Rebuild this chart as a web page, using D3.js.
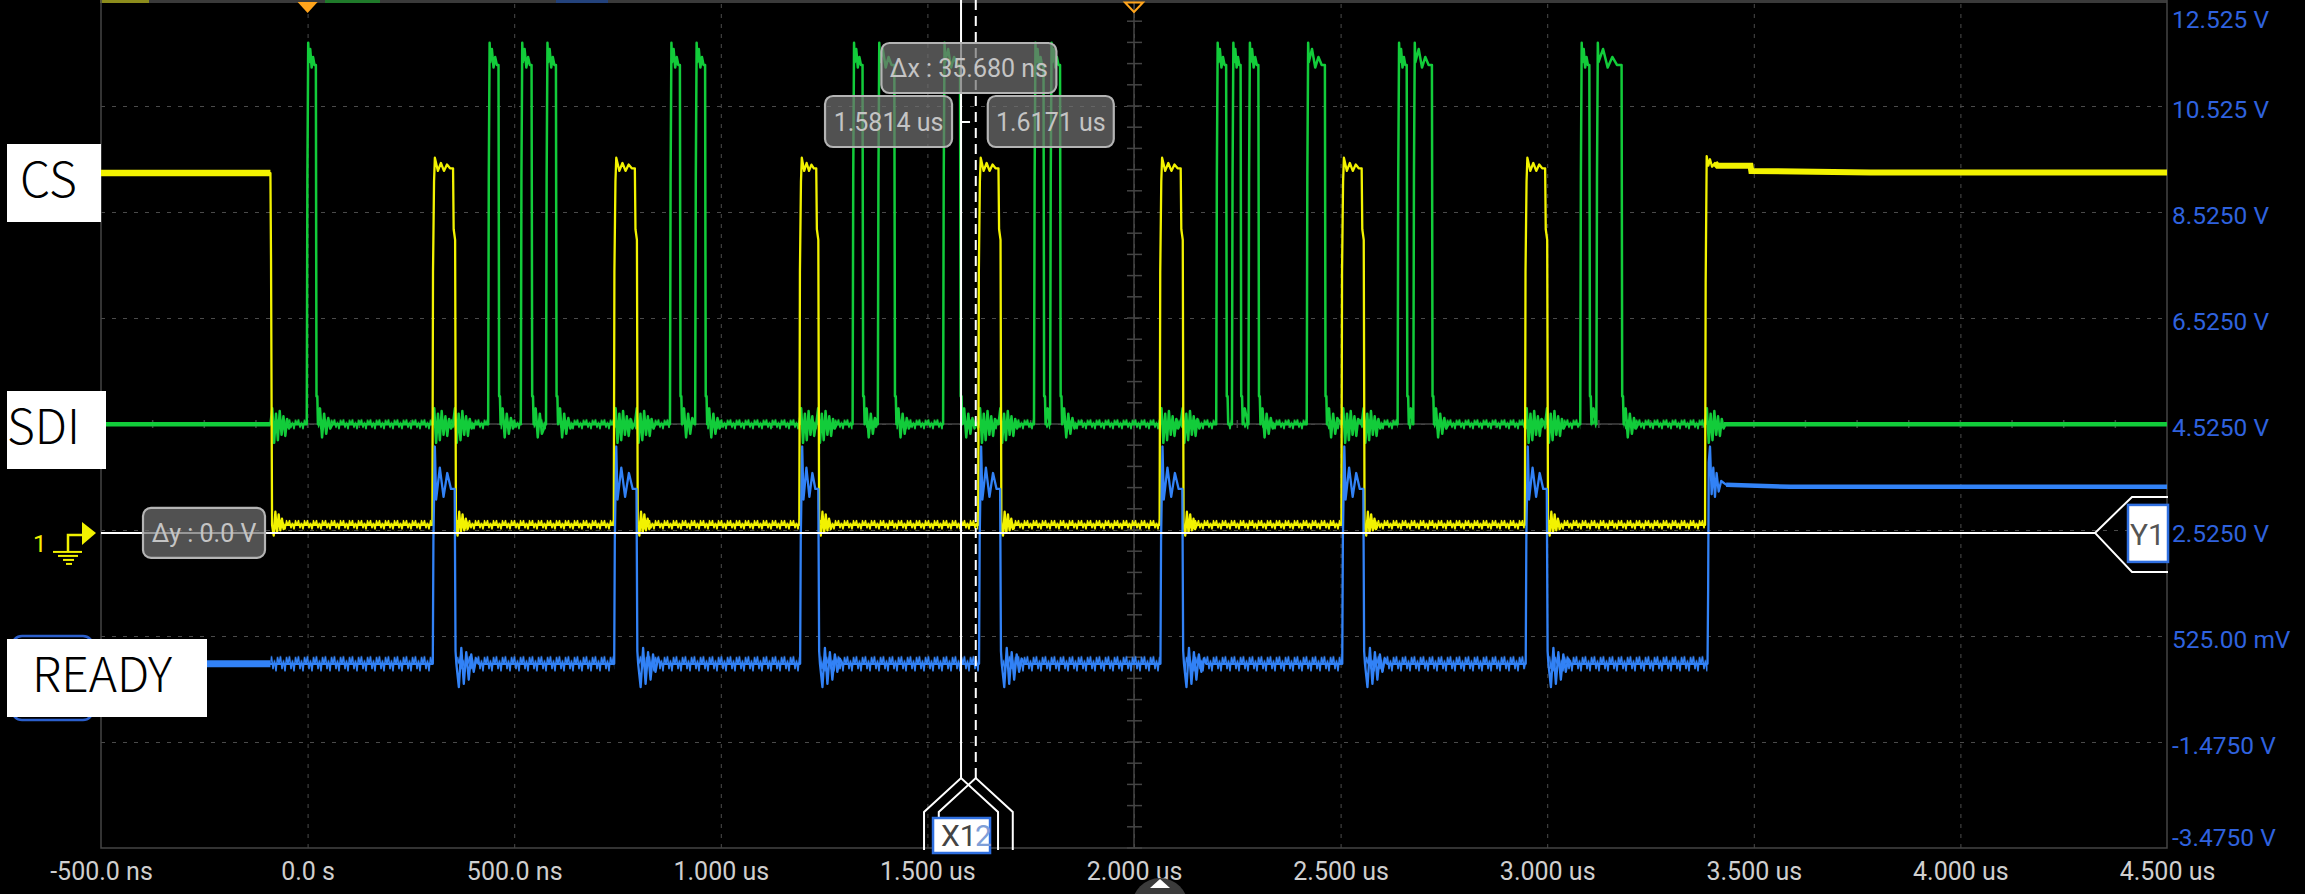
<!DOCTYPE html>
<html>
<head>
<meta charset="utf-8">
<script src="https://cdn.jsdelivr.net/npm/d3@7"></script>
<style>
  html, body { margin: 0; padding: 0; background: #000; overflow: hidden; }
  svg { display: block; }
</style>
</head>
<body>
<svg id="scope" width="2305" height="894"></svg>
<script>
// time in ns, voltage in the volts of the displayed scale
const timeTicks = [-500, 0, 500, 1000, 1500, 2000, 2500, 3000, 3500, 4000, 4500];
const timeTickLabels = ["-500.0 ns", "0.0 s", "500.0 ns", "1.000 us", "1.500 us", "2.000 us",
  "2.500 us", "3.000 us", "3.500 us", "4.000 us", "4.500 us"];
const voltTicks = [12.525, 10.525, 8.525, 6.525, 4.525, 2.525, 0.525, -1.475, -3.475];
const voltTickLabels = ["12.525 V", "10.525 V", "8.5250 V", "6.5250 V", "4.5250 V", "2.5250 V",
  "525.00 mV", "-1.4750 V", "-3.4750 V"];

// CS (yellow)
const csHigh = 9.26, csLow = 2.62;
const csFall = -90;
const csPulseRise = [302, 741, 1190, 1623, 2062, 2502, 2946];
const csPulseFall = [352, 792, 1231, 1672, 2113, 2551, 2995];
const csPulseTop = [9.55, 9.3, 9.45, 9.3, 9.42, 9.35];
const csRing = [-0.2, 0.25, -0.15, 0.2, -0.1, 0.12, -0.08];
const csFinalRise = 3382;
const csSettle = [[4, 9.58], [8, 9.4], [12, 9.52], [17, 9.38], [24, 9.45], [30, 9.4], [110, 9.4], [112, 9.3], [400, 9.27]];

// SDI (green)
const sdiLow = 4.52, sdiPeak = 11.72;
const sdiRise = [-2, 437, 516, 577, 877, 938, 1319, 1380, 1538, 1758, 1797, 2199, 2237, 2277, 2418, 2638, 2676, 3080, 3119];
const sdiFall = [20, 462, 542, 601, 901, 962, 1343, 1420, 1579, 1781, 1821, 2223, 2258, 2301, 2462, 2660, 2721, 3102, 3180];
const sdiTop = [11.35, 11.6, 11.25, 11.45, 11.3];
const sdiRing = [0.3, -0.25, 0.2, -0.18, 0.12, -0.08];
const sdiCrosstalk = [0.3, -0.35, 0.2, -0.3, 0.25, -0.2, 0.15, -0.22, 0.1, -0.08];

// READY (blue)
const readyLow = 0.0;
const readyRise = [303, 742, 1192, 1625, 2064, 2504, 2948];
const readyFall = [356, 796, 1236, 1676, 2117, 2555, 2999];
const readyPulseTop = [4.1, 3.1, 3.7, 3.15, 3.6, 3.3];
const readyRing = [-0.44, 0.3, -0.38, 0.22, -0.3, 0.18, -0.15, 0.1];
const readyFinalRise = 3388;
const readySettle = [[3, 3.8], [6, 4.1], [10, 3.2], [14, 3.7], [18, 3.15], [22, 3.6], [27, 3.25], [33, 3.45], [45, 3.38], [200, 3.34]];

// half width of the noise band on the busy low levels
const csNoise = 0.1, sdiNoise = 0.11, readyNoise = 0.17;

// cursors
const x1Cursor = 1581.4, x2Cursor = 1617.08, y1Cursor = 2.47;

const W = 2305, H = 894;
const plot = { left: 101, right: 2167, top: 0, bottom: 848 };
const yellow = "#f2f200", green = "#12cc3a", blue = "#3282f6";
const font = "Roboto, 'Noto Sans', sans-serif";

const x = d3.scaleLinear().domain([-500, 4500]).range([plot.left, plot.right]);
const y = d3.scaleLinear().domain([-3.475, 12.525]).range([plot.bottom, plot.top]);

const svg = d3.select("#scope");
svg.append("rect").attr("width", W).attr("height", H).attr("fill", "#000");
const defs = svg.append("defs");
defs.append("clipPath").attr("id", "plotClip").append("rect")
  .attr("x", plot.left).attr("y", plot.top)
  .attr("width", plot.right - plot.left).attr("height", plot.bottom - plot.top);

// top status strip
svg.append("line").attr("x1", plot.left).attr("x2", plot.right).attr("y1", 1.5).attr("y2", 1.5)
  .attr("stroke", "#3a3a3a").attr("stroke-width", 3);
[[100, 149, "#8c8c1c"], [325, 380, "#1f7a2a"], [556, 608, "#23427c"]].forEach(([a, b, c]) =>
  svg.append("line").attr("x1", a).attr("x2", b).attr("y1", 1.5).attr("y2", 1.5)
    .attr("stroke", c).attr("stroke-width", 3));

// grid
const grid = svg.append("g");
grid.append("g").attr("transform", `translate(0,${plot.bottom})`)
  .call(d3.axisBottom(x).tickValues(timeTicks.slice(1, -1)).tickSize(-(plot.bottom - plot.top)).tickFormat(""))
  .call(g => g.select(".domain").remove())
  .call(g => g.selectAll("line").attr("stroke", "#4a4a4a").attr("stroke-dasharray", "4,6"));
grid.append("g").attr("transform", `translate(${plot.left},0)`)
  .call(d3.axisLeft(y).tickValues(voltTicks.slice(1, -1)).tickSize(-(plot.right - plot.left)).tickFormat(""))
  .call(g => g.select(".domain").remove())
  .call(g => g.selectAll("line").attr("stroke", "#4a4a4a").attr("stroke-dasharray", "4,7"));

// centre cross with minor ticks
const cx = x(2000), cy = y(4.525);
grid.append("line").attr("x1", cx).attr("x2", cx).attr("y1", plot.top).attr("y2", plot.bottom)
  .attr("stroke", "#444").attr("stroke-width", 1.5);
grid.append("line").attr("x1", plot.left).attr("x2", plot.right).attr("y1", cy).attr("y2", cy)
  .attr("stroke", "#444").attr("stroke-width", 1.5);
grid.selectAll(".vtick").data(d3.range(-3.475, 12.525, 0.4)).enter().append("line")
  .attr("x1", cx - 7).attr("x2", cx + 8).attr("y1", d => y(d)).attr("y2", d => y(d))
  .attr("stroke", "#444").attr("stroke-width", 1.5);
grid.selectAll(".htick").data(d3.range(-500, 4500, 125)).enter().append("line")
  .attr("x1", d => x(d)).attr("x2", d => x(d)).attr("y1", cy - 4).attr("y2", cy + 4)
  .attr("stroke", "#444").attr("stroke-width", 1.5);

// border
svg.append("path")
  .attr("d", `M${plot.left},${plot.top}V${plot.bottom}H${plot.right}V${plot.top}`)
  .attr("fill", "none").attr("stroke", "#444").attr("stroke-width", 1.5);

// ---- waveform points built from the edge times ----
function addRing(pts, t0, level, ring, step, limit) {
  for (let i = 0; i < ring.length; i++) {
    const t = t0 + step * (i + 1);
    if (t >= limit - step) break;
    pts.push([t, level + ring[i]]);
  }
  const tEnd = Math.min(t0 + step * (ring.length + 1), limit - 1);
  if (tEnd > pts[pts.length - 1][0]) pts.push([tEnd, level]);
}

const cs = [[-500, csHigh], [csFall, csHigh], [csFall + 1.5, 7.6], [csFall + 4, csLow]];
addRing(cs, csFall + 4, csLow, csRing, 4, csPulseRise[0]);
csPulseRise.forEach((r, i) => {
  const f = csPulseFall[i], n = csPulseTop.length;
  cs.push([r, csLow], [r + 1.5, 7.4], [r + 4, 9.1]);
  csPulseTop.forEach((v, k) => cs.push([r + 6 + k * (f - r - 6) / n, v]));
  cs.push([f, csPulseTop[n - 1]], [f + 1.5, 8.2], [f + 5, 8.0], [f + 7, csLow]);
  addRing(cs, f + 7, csLow, csRing, 4, i + 1 < csPulseRise.length ? csPulseRise[i + 1] : csFinalRise);
});
cs.push([csFinalRise, csLow], [csFinalRise + 1.5, 7.2]);
csSettle.forEach(([dt, v]) => cs.push([csFinalRise + dt, v]));
cs.push([4500, csSettle[csSettle.length - 1][1]]);

const ready = [[-500, readyLow], [csFall, readyLow]];
readyRise.forEach((r, i) => {
  const f = readyFall[i], n = readyPulseTop.length;
  ready.push([r, readyLow], [r + 1.5, 2.35], [r + 5, readyPulseTop[0]]);
  readyPulseTop.slice(1).forEach((v, k) => ready.push([r + 8 + k * (f - r - 8) / (n - 1), v]));
  ready.push([f, readyPulseTop[n - 1]], [f + 2, 0.24], [f + 4, readyLow]);
  addRing(ready, f + 4, readyLow, readyRing, 6, i + 1 < readyRise.length ? readyRise[i + 1] : readyFinalRise);
});
ready.push([readyFinalRise, readyLow], [readyFinalRise + 1.5, 1.4]);
readySettle.forEach(([dt, v]) => ready.push([readyFinalRise + dt, v]));
ready.push([4500, readySettle[readySettle.length - 1][1]]);

const sdiEvents = sdiRise.map((r, i) => ({ t: r, f: sdiFall[i] }))
  .concat([csFall, ...csPulseRise, ...csPulseFall, csFinalRise].map(t => ({ t })))
  .sort((a, b) => a.t - b.t);
const sdi = [[-500, sdiLow]];
sdiEvents.forEach((e, i) => {
  const limit = i + 1 < sdiEvents.length ? sdiEvents[i + 1].t : 4500;
  if (e.f !== undefined) {
    const n = sdiTop.length;
    sdi.push([e.t, sdiLow], [e.t + 1.5, 9.2], [e.t + 3.5, sdiPeak]);
    sdiTop.forEach((v, k) => sdi.push([e.t + 5 + k * (e.f - e.t - 5) / n, v]));
    sdi.push([e.f, sdiTop[n - 1]], [e.f + 1.5, 5.05], [e.f + 3.5, 5.05], [e.f + 5, sdiLow]);
    addRing(sdi, e.f + 5, sdiLow, sdiRing, 5, limit);
  } else {
    sdi.push([e.t, sdiLow]);
    addRing(sdi, e.t, sdiLow, sdiCrosstalk, 4.5, limit);
  }
});
sdi.push([4500, sdiLow]);

// quiet low-level stretches that carry the noise band
const spans = (starts, ends) => starts.map((s, i) => [s, ends[i]]);
const csSpans = spans([csFall + 8, ...csPulseFall.map(f => f + 8)], [...csPulseRise, csFinalRise]);
const readySpans = spans([csFall, ...readyFall.map(f => f + 6)], [...readyRise, readyFinalRise]);
const sdiSpans = spans([csFall, ...sdiFall.map(f => f + 5)], [...sdiRise, csFinalRise]);

const zig = [[0, 0.5], [1.5, 0.08], [3, 0.8], [4.5, 0.3], [6, 0.92], [7.5, 0.12], [9, 0.5]];
function noisePattern(id, color, level, noise) {
  const top = y(level + noise), h = y(level - noise) - top;
  const p = defs.append("pattern").attr("id", id).attr("patternUnits", "userSpaceOnUse")
    .attr("x", 0).attr("y", top).attr("width", 9).attr("height", h);
  p.append("path")
    .attr("d", zig.map(([u, w], i) => (i ? "L" : "M") + u + "," + (w * h).toFixed(2)).join(""))
    .attr("fill", "none").attr("stroke", color).attr("stroke-width", 1.5);
}
noisePattern("csNoise", yellow, csLow, csNoise);
noisePattern("sdiNoise", green, sdiLow, sdiNoise);
noisePattern("readyNoise", blue, readyLow, readyNoise);

const line = d3.line().x(d => x(d[0])).y(d => y(d[1]));
const traces = svg.append("g").attr("clip-path", "url(#plotClip)");

function drawChannel(pts, color, width, level, noise, patternId, lowSpans, quiet) {
  const band = d3.area().x(d => x(d)).y0(y(level - noise)).y1(y(level + noise));
  lowSpans.forEach(([a, b]) => traces.append("path").attr("d", band([a, b])).attr("fill", `url(#${patternId})`));
  traces.append("path").attr("d", line(pts)).attr("fill", "none")
    .attr("stroke", color).attr("stroke-width", width).attr("stroke-linejoin", "round");
  quiet.forEach(([seg, w]) => traces.append("path").attr("d", line(seg)).attr("fill", "none")
    .attr("stroke", color).attr("stroke-width", w));
}

drawChannel(sdi, green, 2.5, sdiLow, sdiNoise, "sdiNoise", sdiSpans,
  [[[[-500, sdiLow], [csFall, sdiLow]], 4.5], [[[csFinalRise + 45, sdiLow], [4500, sdiLow]], 4.5]]);
drawChannel(cs, yellow, 2.3, csLow, csNoise, "csNoise", csSpans,
  [[[[-500, csHigh], [csFall, csHigh]], 6.5], [cs.filter(d => d[0] >= csFinalRise + 24), 6]]);
drawChannel(ready, blue, 2.3, readyLow, readyNoise, "readyNoise", readySpans,
  [[[[-500, readyLow], [csFall, readyLow]], 7], [ready.filter(d => d[0] >= readyFinalRise + 45), 4.5]]);

// ---- cursors ----
const curs = svg.append("g");
const yc = y(y1Cursor), x1 = x(x1Cursor), x2 = x(x2Cursor);
curs.append("path")
  .attr("d", `M${plot.left},${yc}H2095L2132,${yc - 36}H${plot.right + 1}M2095,${yc}L2132,${yc + 39}H${plot.right + 1}`)
  .attr("fill", "none").attr("stroke", "#fff").attr("stroke-width", 2);
curs.append("line").attr("x1", x1).attr("x2", x1).attr("y1", 0).attr("y2", 778)
  .attr("stroke", "#fff").attr("stroke-width", 2);
curs.append("line").attr("x1", x2).attr("x2", x2).attr("y1", 0).attr("y2", 778)
  .attr("stroke", "#fff").attr("stroke-width", 2).attr("stroke-dasharray", "10,6");
[x1, x2].forEach(xx => curs.append("path")
  .attr("d", `M${xx - 37},${plot.bottom + 2}V812L${xx},778L${xx + 37},812V${plot.bottom + 2}`)
  .attr("fill", "none").attr("stroke", "#fff").attr("stroke-width", 2));
curs.append("line").attr("x1", x1).attr("x2", x1 + 9).attr("y1", 122).attr("y2", 122)
  .attr("stroke", "#fff").attr("stroke-width", 2);

// readout boxes
function readout(bx, by, w, h, text) {
  const g = svg.append("g");
  g.append("rect").attr("x", bx).attr("y", by).attr("width", w).attr("height", h).attr("rx", 8)
    .attr("fill", "rgba(112,112,112,0.72)").attr("stroke", "#b4b4b4").attr("stroke-width", 2.2);
  g.append("text").attr("x", bx + w / 2).attr("y", by + h / 2 + 9).attr("text-anchor", "middle")
    .attr("font-family", font).attr("font-size", 25).attr("fill", "#c4c4c4").text(text);
}
readout((x1 + x2) / 2 - 87, 43, 175, 50, `Δx : ${(x2Cursor - x1Cursor).toFixed(3)} ns`);
readout(x1 - 136, 96, 127, 51, `${(x1Cursor / 1000).toFixed(4)} us`);
readout(x2 + 12, 96, 126, 51, `${(x2Cursor / 1000).toFixed(4)} us`);
readout(143, yc - 25, 122, 50, "Δy : 0.0 V");

// trigger markers
svg.append("path").attr("d", `M${x(0) - 10},2H${x(0) + 10}L${x(0)},13Z`).attr("fill", "#ffa41c");
svg.append("path").attr("d", `M${cx - 9},2.5H${cx + 9}L${cx},12Z`)
  .attr("fill", "none").attr("stroke", "#ffa41c").attr("stroke-width", 2);

// axis labels
svg.append("g").attr("transform", `translate(0,${plot.bottom})`)
  .call(d3.axisBottom(x).tickValues(timeTicks).tickSize(0).tickFormat((d, i) => timeTickLabels[i]))
  .call(g => g.select(".domain").remove())
  .call(g => g.selectAll("text").attr("y", 32).attr("dy", 0)
    .attr("font-family", font).attr("font-size", 25).attr("fill", "#cfcfcf"));
svg.append("g").attr("transform", `translate(${plot.right},0)`)
  .call(d3.axisRight(y).tickValues(voltTicks).tickSize(0).tickFormat((d, i) => voltTickLabels[i]))
  .call(g => g.select(".domain").remove())
  .call(g => g.selectAll("text").attr("x", 5).attr("dy", 0)
    .attr("y", (d, i) => i === 0 ? 27 : i === voltTicks.length - 1 ? -3 : 11.5)
    .attr("text-anchor", "start")
    .attr("font-family", font).attr("font-size", 24.5).attr("fill", "#2f62de"));

// channel name boxes
const labelFont = "'Noto Sans CJK JP', 'Noto Sans', sans-serif";
svg.append("rect").attr("x", 12).attr("y", 636).attr("width", 81).attr("height", 84).attr("rx", 10)
  .attr("fill", "none").attr("stroke", "#2b5fcc").attr("stroke-width", 2.5);
[["CS", 7, 144, 94, 20], ["SDI", 7, 391, 99, 7], ["READY", 7, 639, 200, 32]].forEach(([t, bx, by, w, tx]) => {
  svg.append("rect").attr("x", bx).attr("y", by).attr("width", w).attr("height", 78).attr("fill", "#fff");
  svg.append("text").attr("x", tx).attr("y", by + 53).attr("font-family", labelFont)
    .attr("font-size", 48).attr("font-weight", 300).attr("fill", "#000").text(t);
});

// channel 1 ground marker
const gm = svg.append("g").attr("fill", yellow).attr("stroke", yellow);
gm.append("text").attr("x", 33).attr("y", yc + 19).attr("stroke", "none")
  .attr("font-family", font).attr("font-size", 24).text("1");
gm.append("path").attr("d", `M68,${yc + 19}V${yc + 2}H82`).attr("fill", "none").attr("stroke-width", 2.5);
[[53, 82, 19], [58, 78, 23], [63, 74, 27], [66, 72, 31]].forEach(([a, b, dy]) =>
  gm.append("line").attr("x1", a).attr("x2", b).attr("y1", yc + dy).attr("y2", yc + dy).attr("stroke-width", 2));
gm.append("path").attr("d", `M82,${yc - 11}V${yc + 12}L96,${yc}Z`).attr("stroke", "none");

// cursor tags
defs.append("clipPath").attr("id", "y1Clip").append("rect").attr("x", 2128).attr("y", yc - 28).attr("width", 40).attr("height", 57);
svg.append("rect").attr("x", 2128).attr("y", yc - 28).attr("width", 40).attr("height", 57)
  .attr("fill", "#fff").attr("stroke", "#2f6fe0").attr("stroke-width", 2.5);
svg.append("text").attr("x", 2130).attr("y", yc + 12).attr("clip-path", "url(#y1Clip)")
  .attr("font-family", font).attr("font-size", 30).attr("fill", "#555").text("Y1");

svg.append("rect").attr("x", x1 - 28).attr("y", 818).attr("width", 57).attr("height", 35)
  .attr("fill", "#fff").attr("stroke", "#2f6fe0").attr("stroke-width", 2.5);
svg.append("text").attr("x", x1 + 14).attr("y", 846).attr("font-family", font).attr("font-size", 30)
  .attr("fill", "#7f9fd8").text("2");
svg.append("text").attr("x", x1 - 20).attr("y", 846).attr("font-family", font).attr("font-size", 30)
  .attr("fill", "#444").text("X1");

// menu button at the bottom edge
svg.append("circle").attr("cx", 1160).attr("cy", 906).attr("r", 28).attr("fill", "#3b3b3b");
svg.append("path").attr("d", "M1150,888H1170L1160,879Z").attr("fill", "#fff");
</script>
</body>
</html>
